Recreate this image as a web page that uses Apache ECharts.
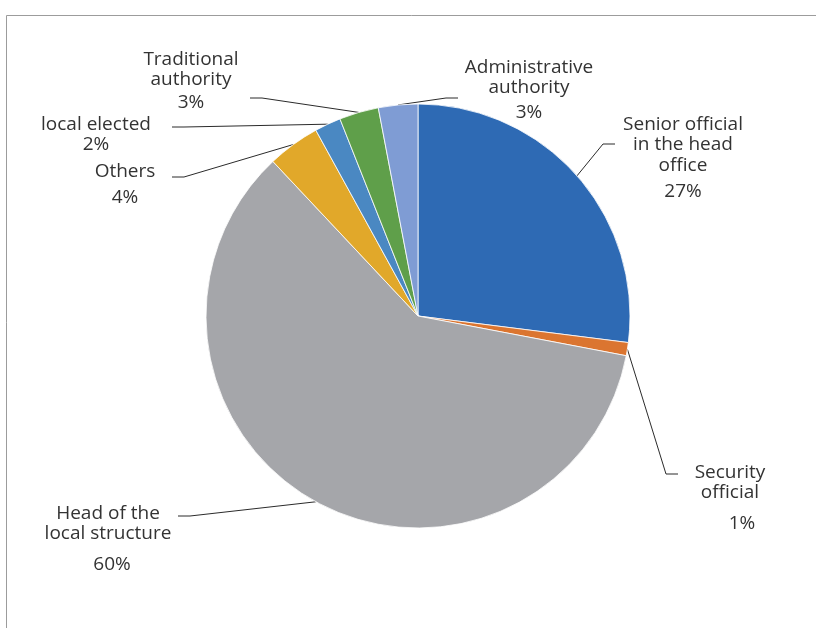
<!DOCTYPE html>
<html>
<head>
<meta charset="utf-8">
<title>Who is contacted first</title>
<script src="https://cdn.jsdelivr.net/npm/echarts@6/dist/echarts.min.js"></script>
<style>
  html, body { margin: 0; padding: 0; background: #ffffff; }
  #chart { width: 816px; height: 628px; }
</style>
</head>
<body>
<div id="chart"></div>
<script>
// Categories, in clockwise order starting at twelve o'clock
const categories = [
  'Senior official\nin the head\noffice',
  'Security\nofficial',
  'Head of the\nlocal structure',
  'Others',
  'local elected',
  'Traditional\nauthority',
  'Administrative\nauthority'
];

// Share of answers, in percent
const shares = [27, 1, 60, 4, 2, 3, 3];

// Slice colours
const sliceColors = ['#2E6AB4', '#DB7530', '#A5A6AA', '#E1A82A', '#4A88C2', '#5F9F4A', '#7F9CD4'];

// Where each label sits: (cx, top) of the text block, the gap before the
// percentage line and its sideways nudge, and where the leader line meets
// the text (end x, y, side).
const labelSpots = [
  { cx: 683, top: 114, pctGap: 26, pctShift: 0,  ex: 615, ey: 144, side: -1 },
  { cx: 730, top: 462, pctGap: 31, pctShift: 12, ex: 678, ey: 474, side: -1 },
  { cx: 108, top: 503, pctGap: 31, pctShift: 4,  ex: 178, ey: 516, side: 1 },
  { cx: 125, top: 161, pctGap: 26, pctShift: 0,  ex: 172, ey: 177, side: 1 },
  { cx: 96,  top: 114, pctGap: 20, pctShift: 0,  ex: 172, ey: 127, side: 1 },
  { cx: 191, top: 49,  pctGap: 23, pctShift: 0,  ex: 250, ey: 98,  side: 1 },
  { cx: 529, top: 57,  pctGap: 25, pctShift: 0,  ex: 458, ey: 98,  side: -1 }
];

const NAME_LH = 20.5;
const FONT = '"Open Sans", "Noto Sans", Lato, sans-serif';
const FONT_SIZE = 19;
const TEXT_COLOR = '#333333';

const CENTER = [418, 316];
const RADIUS = 212;

const pieData = categories.map(function (name, i) {
  const spot = labelSpots[i];
  return {
    name: name,
    value: shares[i],
    itemStyle: { color: sliceColors[i] },
    label: {
      rich: {
        n: { fontFamily: FONT, fontSize: FONT_SIZE, color: TEXT_COLOR, lineHeight: NAME_LH, align: 'center' },
        p: {
          fontFamily: FONT, fontSize: FONT_SIZE, color: TEXT_COLOR,
          lineHeight: 2 * spot.pctGap - NAME_LH, align: 'center',
          padding: [0, 0, 0, spot.pctShift * 2]
        }
      }
    }
  };
});

const chart = echarts.init(document.getElementById('chart'), null, { renderer: 'canvas' });

chart.setOption({
  backgroundColor: '#ffffff',
  animation: false,
  graphic: [{
    type: 'rect',
    silent: true,
    shape: { x: 6.5, y: 15.5, width: 900, height: 700 },
    style: { fill: 'none', stroke: '#9c9c9c', lineWidth: 1 }
  }],
  series: [{
    type: 'pie',
    center: CENTER,
    radius: RADIUS,
    startAngle: 90,
    clockwise: true,
    avoidLabelOverlap: false,
    emphasis: { disabled: true },
    itemStyle: { borderColor: '#ffffff', borderWidth: 0.8 },
    label: {
      show: true,
      position: 'outside',
      formatter: function (p) {
        const lines = p.name.split('\n').map(function (s) { return '{n|' + s + '}'; });
        return lines.join('\n') + '\n{p|' + Math.round(p.percent) + '%}';
      }
    },
    labelLine: {
      show: true,
      length: 10,
      length2: 10,
      smooth: false,
      lineStyle: { color: '#2b2b2b', width: 1 }
    },
    labelLayout: function (params) {
      const spot = labelSpots[params.dataIndex];
      let start = params.labelLinePoints && params.labelLinePoints[0];
      if (!start) {
        // fall back to the slice's mid-angle on the rim
        let before = 0;
        for (let k = 0; k < params.dataIndex; k++) before += shares[k];
        const total = shares.reduce(function (a, b) { return a + b; }, 0);
        const mid = (before + shares[params.dataIndex] / 2) / total * Math.PI * 2;
        start = [CENTER[0] + Math.sin(mid) * RADIUS, CENTER[1] - Math.cos(mid) * RADIUS];
      }
      return {
        x: spot.cx,
        y: spot.top,
        align: 'center',
        verticalAlign: 'top',
        labelLinePoints: [
          [start[0], start[1]],
          [spot.ex + spot.side * 12, spot.ey],
          [spot.ex, spot.ey]
        ]
      };
    },
    data: pieData
  }]
});
</script>
</body>
</html>
